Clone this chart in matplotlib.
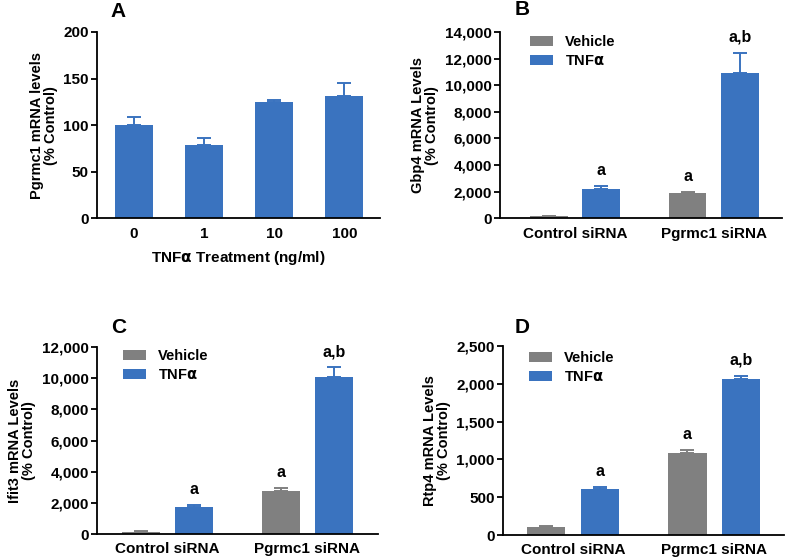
import numpy as np
import matplotlib
matplotlib.use("Agg")
import matplotlib.pyplot as plt
from matplotlib.ticker import FuncFormatter

plt.rcParams['font.family'] = ['Liberation Sans', 'DejaVu Sans']
plt.rcParams['font.weight'] = 'bold'
plt.rcParams['axes.labelweight'] = 'bold'

BLUE = '#3a73bf'
GRAY = '#808080'

# panel A data
doses = ['0', '1', '10', '100']
pgrmc1_mean = [100, 79, 125, 131]
pgrmc1_err = [9, 7, 2, 14]

groups = ['Control siRNA', 'Pgrmc1 siRNA']
# panel B: Gbp4
gbp4_veh = [150, 1880]
gbp4_veh_err = [30, 120]
gbp4_tnf = [2180, 10900]
gbp4_tnf_err = [270, 1550]
gbp4_veh_lab = ['', 'a']
gbp4_tnf_lab = ['a', 'a,b']
# panel C: Ifit3
ifit3_veh = [150, 2780]
ifit3_veh_err = [20, 190]
ifit3_tnf = [1750, 10050]
ifit3_tnf_err = [90, 650]
ifit3_veh_lab = ['', 'a']
ifit3_tnf_lab = ['a', 'a,b']
# panel D: Rtp4
rtp4_veh = [110, 1085]
rtp4_veh_err = [5, 38]
rtp4_tnf = [608, 2060]
rtp4_tnf_err = [22, 48]
rtp4_veh_lab = ['', 'a']
rtp4_tnf_lab = ['a', 'a,b']

fig = plt.figure(figsize=(7.86, 5.59), dpi=100)

comma = FuncFormatter(lambda v, p: f'{int(v):,}')


def style(ax):
    for s in ['top', 'right']:
        ax.spines[s].set_visible(False)
    for s in ['left', 'bottom']:
        ax.spines[s].set_linewidth(1.3)
    ax.tick_params(axis='y', direction='out', length=4, width=1.3, labelsize=11, pad=2)
    ax.tick_params(axis='x', length=0, labelsize=11, pad=6)


def upper_err(ax, x, y, e, c):
    ax.errorbar(x, y, yerr=[np.zeros(len(e)), e], fmt='none', ecolor=c,
                elinewidth=1.4, capsize=5, capthick=1.4)


# ---- A
axA = fig.add_axes([0.1234, 0.6095, 0.3601, 0.3333])
xa = np.arange(len(doses))
axA.bar(xa, pgrmc1_mean, width=0.54, color=BLUE)
upper_err(axA, xa, pgrmc1_mean, pgrmc1_err, BLUE)
axA.set_xlim(-0.53, 3.51)
axA.set_ylim(0, 200)
axA.set_yticks([0, 50, 100, 150, 200])
axA.set_xticks(xa)
axA.set_xticklabels(doses)
axA.set_xlabel('TNF$\\mathrm{\\alpha}$ Treatment (ng/ml)', fontsize=11, labelpad=6)
axA.set_ylabel('Pgrmc1 mRNA levels\n(% Control)', fontsize=10.5, labelpad=4, linespacing=1.0)
style(axA)


def grouped(ax, veh, veh_e, tnf, tnf_e, veh_lab, tnf_lab, ylim, step, ylabel, xlim, leg_xy):
    xg = np.arange(len(groups))
    off, w = 0.19, 0.273
    ax.bar(xg - off, veh, width=w, color=GRAY, label='Vehicle')
    ax.bar(xg + off, tnf, width=w, color=BLUE, label='TNF$\\mathrm{\\alpha}$')
    upper_err(ax, xg - off, veh, veh_e, GRAY)
    upper_err(ax, xg + off, tnf, tnf_e, BLUE)
    for xs, m, e, labs in [(xg - off, veh, veh_e, veh_lab), (xg + off, tnf, tnf_e, tnf_lab)]:
        for xi, mi, ei, lb in zip(xs, m, e, labs):
            if lb:
                ax.annotate(lb, (xi, mi + ei), xytext=(0, 8), textcoords='offset points',
                            ha='center', va='baseline', fontsize=11.5, fontweight='bold')
    ax.set_xlim(*xlim)
    ax.set_ylim(0, ylim)
    ax.set_yticks(np.arange(0, ylim + 1, step))
    ax.yaxis.set_major_formatter(comma)
    ax.set_xticks(xg)
    ax.set_xticklabels(groups)
    ax.set_ylabel(ylabel, fontsize=10.5, labelpad=4, linespacing=1.0)
    ax.legend(loc='upper left', bbox_to_anchor=leg_xy, frameon=False, fontsize=10.5,
              handlelength=1.6, handleheight=0.7, handletextpad=0.8, labelspacing=0.35,
              borderpad=0, borderaxespad=0)
    style(ax)


axB = fig.add_axes([500 / 786, 0.6095, 282 / 786, 0.3333])
grouped(axB, gbp4_veh, gbp4_veh_err, gbp4_tnf, gbp4_tnf_err, gbp4_veh_lab, gbp4_tnf_lab,
        14000, 2000, 'Gbp4 mRNA Levels\n(% Control)', (-0.54, 1.49), (0.106, 0.985))

axC = fig.add_axes([0.1234, 0.0447, 0.3575, 0.3345])
grouped(axC, ifit3_veh, ifit3_veh_err, ifit3_tnf, ifit3_tnf_err, ifit3_veh_lab, ifit3_tnf_lab,
        12000, 2000, 'Ifit3 mRNA Levels\n(% Control)', (-0.504, 1.507), (0.0925, 0.99))

axD = fig.add_axes([0.64, 0.0429, 0.3575, 0.3381])
grouped(axD, rtp4_veh, rtp4_veh_err, rtp4_tnf, rtp4_tnf_err, rtp4_veh_lab, rtp4_tnf_lab,
        2500, 500, 'Rtp4 mRNA Levels\n(% Control)', (-0.496, 1.496), (0.092, 0.975))

for lab, x, y in [('A', 110, 17), ('B', 515, 15), ('C', 111, 333), ('D', 515, 333)]:
    fig.text(x / 786, 1 - y / 559, lab, fontsize=15, fontweight='bold', ha='left', va='baseline')

fig.savefig('out.png', dpi=100)
